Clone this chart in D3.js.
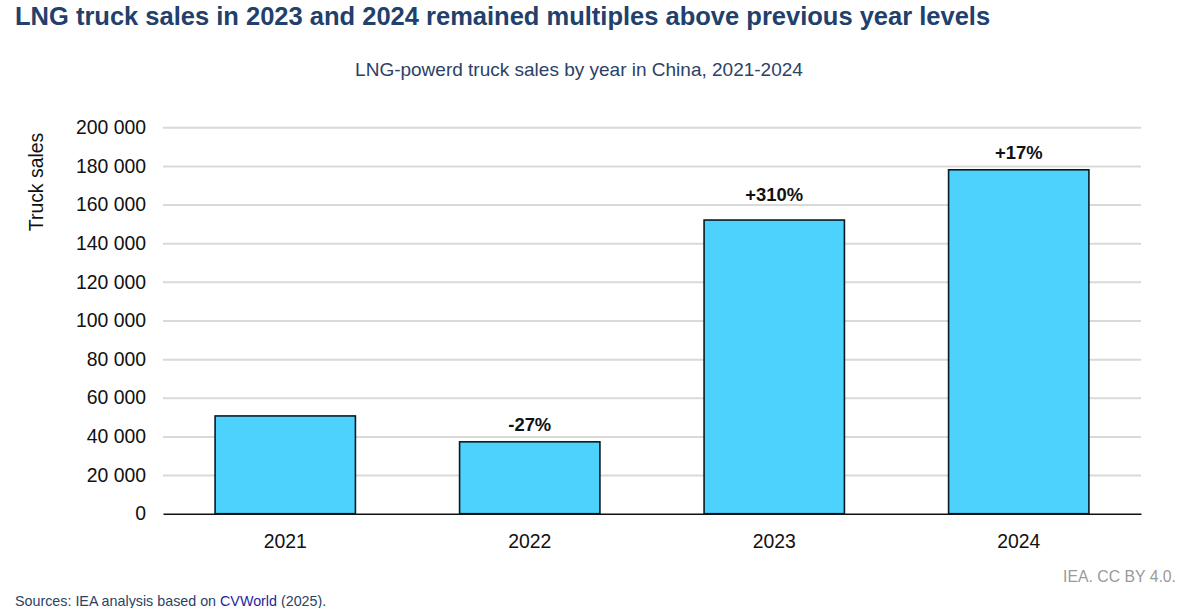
<!DOCTYPE html>
<html>
<head>
<meta charset="utf-8">
<script src="https://cdn.jsdelivr.net/npm/d3@7"></script>
<style>
  html, body { margin: 0; padding: 0; background: #fff; }
  svg { display: block; font-family: "Liberation Sans", Arial, sans-serif; }
</style>
</head>
<body>
<svg id="chart" width="1183" height="608"></svg>
<script>
const categories = ["2021", "2022", "2023", "2024"];
const sales = [50600, 37200, 152000, 178000];
const changeLabels = ["", "-27%", "+310%", "+17%"];
const yTicks = [0, 20000, 40000, 60000, 80000, 100000, 120000, 140000, 160000, 180000, 200000];

const svg = d3.select("#chart");
const margin = { left: 163, right: 42, top: 127.3, bottom: 94.3 };
const W = 1183, H = 608;
const FONT = "Liberation Sans, Arial, sans-serif";

const x = d3.scaleBand().domain(categories).range([margin.left, W - margin.right]).paddingInner(0.426).paddingOuter(0.213);
const y = d3.scaleLinear().domain([0, 200000]).range([H - margin.bottom, margin.top]);

const fmt = v => d3.format(",")(v).replace(/,/g, " ");

// Title
svg.append("text").attr("x", 15).attr("y", 24.5)
  .attr("font-size", 25.5).attr("font-weight", "bold").attr("fill", "#21406b")
  .text("LNG truck sales in 2023 and 2024 remained multiples above previous year levels");

// Subtitle
svg.append("text").attr("x", 579).attr("y", 76).attr("text-anchor", "middle")
  .attr("font-size", 19).attr("fill", "#2b4266")
  .text("LNG-powerd truck sales by year in China, 2021-2024");

// Gridlines + y axis
const yAxis = d3.axisLeft(y).tickValues(yTicks).tickFormat(fmt)
  .tickSize(-(W - margin.left - margin.right)).tickPadding(17);
const gy = svg.append("g").attr("transform", `translate(${margin.left},0)`).call(yAxis);
gy.select(".domain").remove();
gy.selectAll(".tick line").attr("stroke", "#d9d9d9").attr("stroke-width", 2);
gy.selectAll(".tick text").attr("font-size", 19.4).attr("fill", "#111").attr("font-family", FONT);
gy.selectAll(".tick").filter(d => d === 0).select("line").attr("stroke", "none");

// Y axis label
svg.append("text").attr("transform", "translate(43,182) rotate(-90)")
  .attr("text-anchor", "middle").attr("font-size", 19.4).attr("fill", "#111")
  .text("Truck sales");

// Bars
svg.append("g").selectAll("rect").data(categories).join("rect")
  .attr("x", d => x(d))
  .attr("y", (d, i) => y(sales[i]))
  .attr("width", x.bandwidth())
  .attr("height", (d, i) => y(0) - y(sales[i]))
  .attr("fill", "#4dd2fe").attr("stroke", "#0a1a22").attr("stroke-width", 1.6);

// Baseline + category labels
const xAxis = d3.axisBottom(x).tickSize(0).tickPadding(20.5);
const gx = svg.append("g").attr("transform", `translate(0,${y(0)})`).call(xAxis);
gx.select(".domain").attr("stroke", "#111").attr("stroke-width", 1.6);
gx.selectAll(".tick text").attr("font-size", 19.4).attr("fill", "#111").attr("font-family", FONT);

// Change labels (the 2023 label sits a little higher in the original)
svg.append("g").selectAll("text").data(categories).join("text")
  .attr("x", d => x(d) + x.bandwidth() / 2)
  .attr("y", (d, i) => y(sales[i]) - (d === "2023" ? 19.5 : 11))
  .attr("text-anchor", "middle").attr("font-size", 18.4).attr("font-weight", "bold").attr("fill", "#111")
  .text((d, i) => changeLabels[i]);

// Footer
svg.append("text").attr("x", 1176).attr("y", 582).attr("text-anchor", "end")
  .attr("font-size", 15.8).attr("fill", "#9a9a9a").text("IEA. CC BY 4.0.");

const src = svg.append("text").attr("x", 15).attr("y", 606).attr("font-size", 14.3).attr("fill", "#2b4266");
src.append("tspan").text("Sources: IEA analysis based on ");
src.append("tspan").attr("fill", "#1f1f9e").text("CVWorld");
src.append("tspan").text(" (2025).");
</script>
</body>
</html>
